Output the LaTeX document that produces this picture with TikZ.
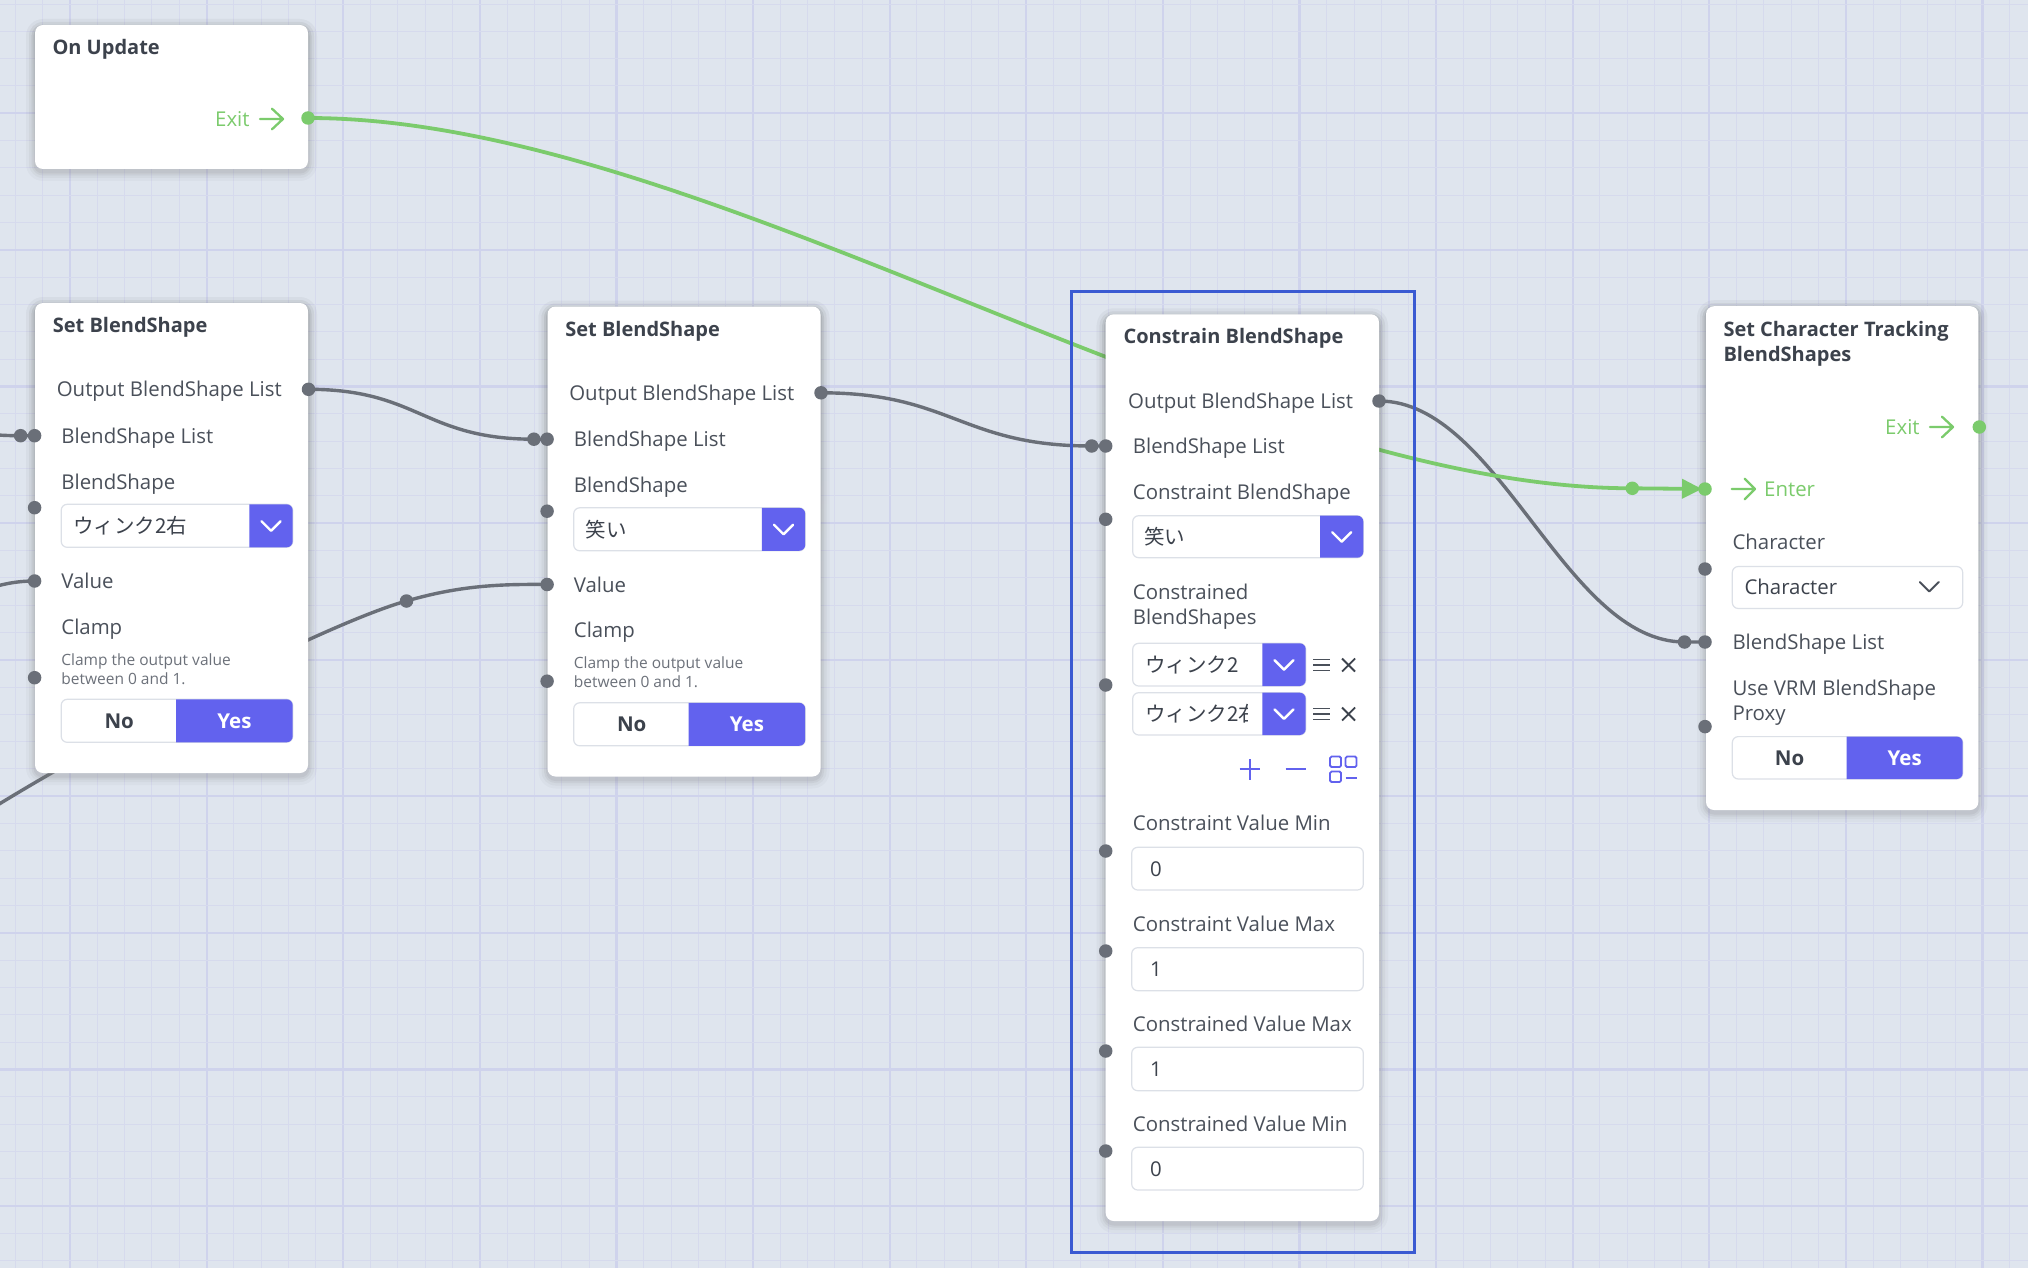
\documentclass[tikz,border=0pt]{standalone}
\usepackage{fontspec}
\setmainfont{Open Sans}
\newfontfamily\jpfont{Noto Sans CJK JP}
\usetikzlibrary{arrows.meta}

\definecolor{canvas}{HTML}{DFE5EE}
\definecolor{gridminor}{HTML}{D6DAED}
\definecolor{gridmajor}{HTML}{CFD3EC}
\definecolor{wiregrey}{HTML}{6A6F78}
\definecolor{flowgreen}{HTML}{7BCB6C}
\definecolor{accent}{HTML}{6262EE}
\definecolor{selblue}{HTML}{3A5AD2}
\definecolor{titleink}{HTML}{3C424C}
\definecolor{labelink}{HTML}{4A505A}
\definecolor{hintink}{HTML}{6C717A}
\definecolor{fieldedge}{HTML}{DCE0E7}
\definecolor{shade}{HTML}{8A93A6}

\newcommand\pxsize[1]{\fontsize{#1pt}{#1pt}\selectfont}

\pgfdeclarelayer{backdrop}
\pgfdeclarelayer{links}
\pgfsetlayers{backdrop,links,main}

\tikzset{
  panel/.style={fill=white, rounded corners=8pt, inner sep=0pt, outer sep=0pt, anchor=north west},
  ttl/.style={anchor=base west, inner sep=0pt, font=\bfseries\pxsize{20}, text=titleink},
  lbl/.style={anchor=base west, inner sep=0pt, font=\pxsize{20.4}, text=labelink},
  olbl/.style={lbl, anchor=base east},
  hint/.style={anchor=base west, inner sep=0pt, font=\pxsize{15.5}, text=hintink},
  jp/.style={anchor=base west, inner sep=0pt, font=\jpfont\pxsize{20.5}, text=titleink},
  sock/.style={circle, fill=wiregrey, inner sep=0pt, minimum size=13.5pt},
  gsock/.style={circle, fill=flowgreen, inner sep=0pt, minimum size=13.5pt},
  link/.style={draw=wiregrey, line width=3.4pt},
  flow/.style={draw=flowgreen, line width=3.8pt},
  fieldbox/.style={draw=fieldedge, line width=1.2pt, fill=white, rounded corners=6pt},
  flowtxt/.style={anchor=base west, inner sep=0pt, font=\pxsize{20.4}, text=flowgreen},
  flowicon/.style={draw=flowgreen, line width=2.3pt, line cap=round, line join=round},
  tglno/.style={anchor=base, inner sep=0pt, font=\bfseries\pxsize{20.5}, text=titleink},
  tglyes/.style={tglno, text=white},
}

% soft shadow under a panel: x1,y1,x2,y2
\newcommand\panelshade[4]{%
  \foreach \s/\o in {9/0.025,6/0.035,3.5/0.05,1.5/0.06} {
    \fill[shade, opacity=\o, rounded corners={8pt+\s pt}]
      (#1-\s,#2-\s+3) rectangle (#3+\s,#4+\s+3);
  }
}
% field with a coloured drop button on its right: x1,y1,x2,y2,xsplit
\newcommand\pickbox[5]{%
  \draw[fieldbox] (#1,#2) rectangle (#3,#4);
  \begin{scope}
    \clip (#5,#2-2) rectangle (#3+2,#4+2);
    \fill[accent, rounded corners=6pt] (#1,#2) rectangle (#3,#4);
  \end{scope}
  \draw[white, line width=2.4pt, line cap=round, line join=round]
    ({(#5+#3)/2-9.5},{(#2+#4)/2-4.5}) -- ({(#5+#3)/2},{(#2+#4)/2+5}) -- ({(#5+#3)/2+9.5},{(#2+#4)/2-4.5});
}
% two-state switch: x1,y1,x2,y2,xsplit
\newcommand\tglbox[5]{%
  \draw[fieldbox] (#1,#2) rectangle (#3,#4);
  \begin{scope}
    \clip (#5,#2-2) rectangle (#3+2,#4+2);
    \fill[accent, rounded corners=6pt] (#1,#2) rectangle (#3,#4);
  \end{scope}
}
% reorder / remove marks of a list row: y centre
\newcommand\rowtools[1]{%
  \draw[labelink, line width=1.3pt] (1313.4,#1-5.3) -- (1330,#1-5.3) (1313.4,#1) -- (1330,#1) (1313.4,#1+5.3) -- (1330,#1+5.3);
  \draw[titleink, line width=1.8pt] (1342,#1-6.5) -- (1355,#1+6.5) (1342,#1+6.5) -- (1355,#1-6.5);
}
% numeric entry of the constrain panel: y1,y2,value,name
\newcommand\numfield[4]{%
  \draw[fieldbox] (1131.7,#1) rectangle (1363.3,#2);
  \node[lbl, text=titleink] (#4) at (1150,{(#1+#2)/2+7.5}) {#3};
}
% one "Set BlendShape" panel: name, selected shape
\newcommand\blendpanel[2]{%
  \panelshade{35}{303}{308}{773}
  \node[panel, minimum width=273pt, minimum height=470pt] (#1) at (35,303) {};
  \node[ttl] (#1-title) at (52.6,332.5) {Set BlendShape};
  \node[olbl] (#1-outlbl) at (282,396.8) {Output BlendShape List};
  \node[lbl] (#1-listlbl) at (61.2,443.2) {BlendShape List};
  \node[lbl] (#1-shapelbl) at (61.2,489.2) {BlendShape};
  \pickbox{61.2}{504.3}{292.7}{547.3}{249.3}
  \node[jp] (#1-shape) at (73,533.6) {#2};
  \node[lbl] (#1-vallbl) at (61.2,588.5) {Value};
  \node[lbl] (#1-clamplbl) at (61.2,634.2) {Clamp};
  \node[hint] (#1-hint1) at (61.2,665) {Clamp the output value};
  \node[hint] (#1-hint2) at (61.2,684) {between 0 and 1.};
  \tglbox{61.2}{699.3}{292.7}{742.3}{176}
  \node[tglno] (#1-no) at (119.2,728.4) {No};
  \node[tglyes] (#1-yes) at (234.4,728.4) {Yes};
  \node[sock] (#1-out) at (308.5,389.3) {};
  \node[sock] (#1-in) at (34.6,435.7) {};
  \node[sock] (#1-shapein) at (34.6,507.7) {};
  \node[sock] (#1-valin) at (34.6,581) {};
  \node[sock] (#1-clampin) at (34.6,677.7) {};
}

\begin{document}
\begin{tikzpicture}[x=1pt, y=-1pt]
\useasboundingbox (0,0) rectangle (2028,1268);

% canvas and its grid
\begin{pgfonlayer}{backdrop}
  \fill[canvas] (0,0) rectangle (2028,1268);
  \foreach \k in {-2,...,72} {
    \pgfmathsetmacro\gx{70+27.32*\k}
    \pgfmathtruncatemacro\m{mod(\k+100,5)}
    \ifnum\m=0 \draw[gridmajor, line width=2.2pt] (\gx,0) -- (\gx,1268);
    \else \draw[gridminor, line width=1pt] (\gx,0) -- (\gx,1268); \fi
  }
  \foreach \k in {-5,...,42} {
    \pgfmathsetmacro\gy{113.3+27.32*\k}
    \pgfmathtruncatemacro\m{mod(\k+100,5)}
    \ifnum\m=0 \draw[gridmajor, line width=2.2pt] (0,\gy) -- (2028,\gy);
    \else \draw[gridminor, line width=1pt] (0,\gy) -- (2028,\gy); \fi
  }
\end{pgfonlayer}

% ---- On Update
\panelshade{35}{25}{308}{169}
\node[panel, minimum width=273pt, minimum height=144pt] (ou) at (35,25) {};
\node[ttl] (ou-title) at (52.3,54.6) {On Update};
\node[flowtxt] (ou-exitlbl) at (215,126.5) {Exit};
\draw[flowicon] (260,119) -- (283,119) (272,108.7) -- (283,119) -- (272,129.3);
\node[gsock] (ou-exit) at (308,118) {};

% ---- two Set BlendShape panels
\blendpanel{sbA}{ウィンク2右}
\begin{scope}[shift={(512.5,3.5)}]
  \blendpanel{sbB}{笑い}
\end{scope}

% ---- Constrain BlendShape
\panelshade{1105.7}{314.3}{1379}{1221}
\node[panel, minimum width=273.3pt, minimum height=906.7pt] (con) at (1105.7,314.3) {};
\node[ttl] (con-title) at (1123.3,343.2) {Constrain BlendShape};
\node[olbl] (con-outlbl) at (1353.3,408.5) {Output BlendShape List};
\node[lbl] (con-listlbl) at (1132.7,453.5) {BlendShape List};
\node[lbl] (con-reflbl) at (1132.7,499.8) {Constraint BlendShape};
\pickbox{1132.7}{515.7}{1363.3}{557.7}{1320}
\node[jp] (con-ref) at (1144,544.2) {笑い};
\node[lbl] (con-setlbl1) at (1132.7,599.8) {Constrained};
\node[lbl] (con-setlbl2) at (1132.7,624.8) {BlendShapes};
\pickbox{1132.7}{643.3}{1305.7}{686}{1262.3}
\node[jp] (con-item1) at (1145,672.2) {ウィンク2};
\rowtools{665}
\pickbox{1132.7}{692.7}{1305.7}{735}{1262.3}
\begin{scope}
  \clip (1140,692) rectangle (1247.5,736);
  \node[jp] (con-item2) at (1145,721.4) {ウィンク2右};
\end{scope}
\rowtools{714}
% add / remove / layout buttons
\draw[accent, line width=2.3pt] (1239.7,769.3) -- (1260.3,769.3) (1250,759) -- (1250,779.6);
\draw[accent, line width=2.3pt] (1285.7,769.3) -- (1306.3,769.3);
\draw[accent, line width=1.8pt, rounded corners=1.5pt]
  (1330,756.5) rectangle (1341,767) (1345.5,756.5) rectangle (1356.5,767) (1330,771.5) rectangle (1341,782);
\draw[accent, line width=1.8pt] (1345.5,778) -- (1356.5,778);
\node[lbl] (con-minlbl) at (1132.7,830.8) {Constraint Value Min};
\numfield{847.3}{890}{0}{con-minval}
\node[lbl] (con-maxlbl) at (1132.7,931.8) {Constraint Value Max};
\numfield{947.7}{990.7}{1}{con-maxval}
\node[lbl] (con-cmaxlbl) at (1132.7,1031.8) {Constrained Value Max};
\numfield{1047.3}{1090.7}{1}{con-cmaxval}
\node[lbl] (con-cminlbl) at (1132.7,1131.5) {Constrained Value Min};
\numfield{1147.3}{1190}{0}{con-cminval}
\node[sock] (con-out) at (1379,401) {};
\node[sock] (con-in) at (1105.7,446) {};
\node[sock] (con-refin) at (1105.7,519.3) {};
\node[sock] (con-setin) at (1105.7,685) {};
\node[sock] (con-minin) at (1105.7,851) {};
\node[sock] (con-maxin) at (1105.7,951) {};
\node[sock] (con-cmaxin) at (1105.7,1051) {};
\node[sock] (con-cminin) at (1105.7,1151) {};
% selection frame
\draw[selblue, line width=2.5pt] (1071.7,291.7) rectangle (1414.5,1252.3);

% ---- Set Character Tracking BlendShapes
\panelshade{1706}{306.2}{1978.3}{810}
\node[panel, minimum width=272.3pt, minimum height=503.8pt] (chr) at (1706,306.2) {};
\node[ttl] (chr-title1) at (1723.3,336.1) {Set Character Tracking};
\node[ttl] (chr-title2) at (1723.3,361.9) {BlendShapes};
\node[flowtxt] (chr-exitlbl) at (1885,434.5) {Exit};
\draw[flowicon] (1930,427) -- (1953,427) (1942,416.7) -- (1953,427) -- (1942,437.3);
\node[gsock] (chr-exit) at (1979.3,427) {};
\draw[flowicon] (1731.7,489) -- (1755,489) (1744.7,478.7) -- (1755,489) -- (1744.7,499.3);
\node[flowtxt] (chr-enterlbl) at (1764,496.5) {Enter};
\node[gsock] (chr-enter) at (1705,489) {};
\node[lbl] (chr-charlbl) at (1732.3,549.9) {Character};
\draw[fieldbox] (1732.3,566.5) rectangle (1962.7,608.5);
\node[lbl, text=titleink] (chr-charval) at (1744.3,594.3) {Character};
\draw[labelink, line width=2pt, line cap=round, line join=round]
  (1919.8,582) -- (1929.3,591.5) -- (1938.8,582);
\node[sock] (chr-charin) at (1705,569) {};
\node[lbl] (chr-listlbl) at (1732.3,649.5) {BlendShape List};
\node[sock] (chr-list) at (1705,642) {};
\node[lbl] (chr-proxylbl1) at (1732.3,695.9) {Use VRM BlendShape};
\node[lbl] (chr-proxylbl2) at (1732.3,720.4) {Proxy};
\node[sock] (chr-proxyin) at (1705,726.6) {};
\tglbox{1732.3}{736.6}{1962.7}{779}{1846.7}
\node[tglno] (chr-no) at (1789.5,765.3) {No};
\node[tglyes] (chr-yes) at (1904.7,765.3) {Yes};

% ---- wire end knots
\node[sock] (kA) at (20.6,435.7) {};
\node[sock] (kB) at (533.9,439.2) {};
\node[sock] (kC) at (1091.7,446) {};
\node[sock] (kD) at (1684.5,642) {};
\node[sock] (kE) at (406.5,601) {};
\node[gsock] (kF) at (1632.3,488.3) {};
\coordinate (srcA) at (-130,418);
\coordinate (srcB) at (-90,620);
\coordinate (srcC) at (-60,842);

% ---- connections
\begin{pgfonlayer}{links}
  \draw[link] (srcA) .. controls (-50,418) and (-50,435.7) .. (kA.center) -- (sbA-in.center);
  \draw[link] (srcB) .. controls (-30,596) and (-5,581) .. (sbA-valin.center);
  \draw[link] (srcC) .. controls (60,760) and (320,625) .. (kE.center)
               .. controls (460,585.5) and (500,584) .. (sbB-valin.center);
  \draw[link] (sbA-out.center) .. controls +(110,0) and +(-110,0) .. (kB.center) -- (sbB-in.center);
  \draw[link] (sbB-out.center) .. controls +(130,0) and +(-130,0) .. (kC.center) -- (con-in.center);
  \draw[link] (con-out.center) .. controls +(120,0) and +(-120,0) .. (kD.center) -- (chr-list.center);
  \draw[flow] (ou-exit.center) .. controls +(400,0) and +(-400,0) .. (kF.center);
  \draw[flow, -{Triangle[length=20pt,width=19pt]}, shorten >=3pt] (kF.center) -- (chr-enter.center);
\end{pgfonlayer}
\end{tikzpicture}
\end{document}
